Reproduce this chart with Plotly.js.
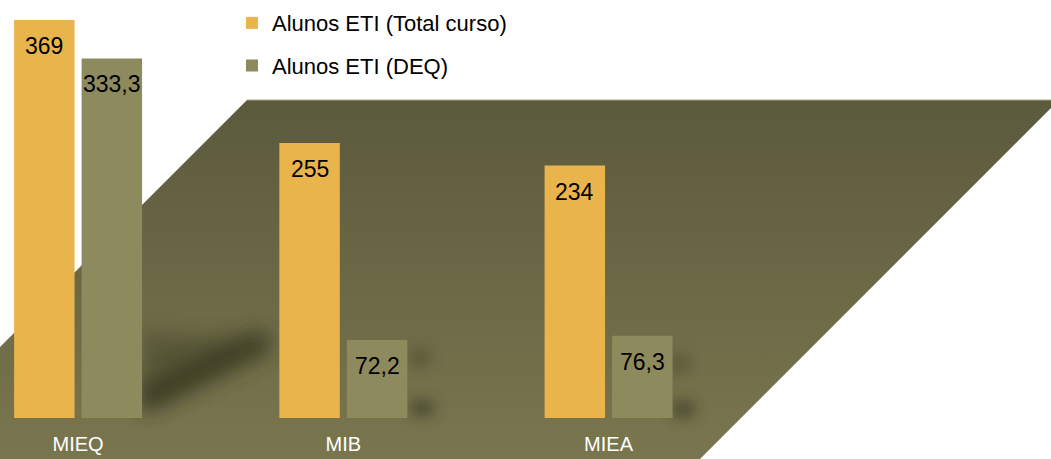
<!DOCTYPE html>
<html>
<head>
<meta charset="utf-8">
<script src="https://cdn.plot.ly/plotly-3.0.1.min.js"></script>
<style>html,body{margin:0;padding:0;background:#fff;}#chart{width:1051px;height:459px;}</style>
</head>
<body>
<div id="chart"></div>
<script>
// ---- data ----
var categories = ["MIEQ", "MIB", "MIEA"];
var seriesNames = ["Alunos ETI (Total curso)", "Alunos ETI (DEQ)"];
var totalCurso = [369, 255, 234];
var deq = [333.3, 72.2, 76.3];

// ---- styles ----
var colors = ["#E8B44B", "#8D8A5E"];
var FONT = "Liberation Sans, Arial, sans-serif";
var W = 1051, H = 459, MB = 41, PH = H - MB;

// decorative floor (background picture, not data)
var svg = '<svg xmlns="http://www.w3.org/2000/svg" width="1051" height="459" viewBox="0 0 1051 459">' +
  '<defs><linearGradient id="g" x1="0" y1="0" x2="0" y2="1">' +
  '<stop offset="0" stop-color="#5C5A3D"/><stop offset="1" stop-color="#79764F"/></linearGradient>' +
  '<filter id="b" filterUnits="userSpaceOnUse" x="0" y="0" width="1051" height="459"><feGaussianBlur stdDeviation="10"/></filter>' +
  '<filter id="s" filterUnits="userSpaceOnUse" x="0" y="0" width="1051" height="459"><feGaussianBlur stdDeviation="7"/></filter></defs>' +
  '<polygon points="247,100 1059,100 700,459 0,459 0,347" fill="url(#g)"/>' +
  '<line x1="247" y1="100" x2="1051" y2="100" stroke="#A9A78C" stroke-width="1"/>' +
  '<polygon points="142,332 262,340 142,414" fill="#3A3A24" opacity="0.45" filter="url(#b)"/>' +
  '<path d="M 150 396 L 258 344" stroke="#33331D" stroke-width="26" stroke-linecap="round" opacity="0.7" filter="url(#b)"/>' +
  '<ellipse cx="420" cy="358" rx="12" ry="10" fill="#3A3A24" opacity="0.4" filter="url(#s)"/>' +
  '<ellipse cx="422" cy="408" rx="13" ry="9" fill="#33331D" opacity="0.6" filter="url(#s)"/>' +
  '<ellipse cx="679" cy="364" rx="12" ry="10" fill="#3A3A24" opacity="0.4" filter="url(#s)"/>' +
  '<ellipse cx="683" cy="409" rx="13" ry="9" fill="#33331D" opacity="0.6" filter="url(#s)"/>' +
  '</svg>';
var bgSrc = "data:image/svg+xml;charset=utf-8," + encodeURIComponent(svg);

var series = [totalCurso, deq];
var traces = series.map(function (vals, i) {
  return {
    type: "bar",
    name: seriesNames[i],
    x: categories,
    y: vals,
    marker: { color: colors[i] },
    legendgroup: "g" + i,
    hoverinfo: "x+y+name"
  };
});

// value labels at the top inside each bar
var annotations = [];
var slotOffset = 33.75;
series.forEach(function (vals, i) {
  vals.forEach(function (v, j) {
    annotations.push({
      x: categories[j], y: v, xref: "x", yref: "y",
      xshift: (i === 0 ? -slotOffset : slotOffset), yshift: -11,
      yanchor: "top", xanchor: "center",
      text: String(v).replace(".", ","),
      showarrow: false,
      font: { family: FONT, size: 23, color: "#000000" }
    });
  });
});

var layout = {
  width: W, height: H,
  margin: { l: 0, r: 0, t: 0, b: MB, pad: 0 },
  paper_bgcolor: "#FFFFFF",
  plot_bgcolor: "rgba(0,0,0,0)",
  font: { family: FONT, size: 20, color: "#000000" },
  barmode: "group",
  bargap: 0.491,
  bargroupgap: 0.104,
  separators: ",.",
  xaxis: {
    type: "category",
    range: [-0.2944, 3.668],
    showgrid: false, zeroline: false, showline: false,
    ticks: "outside", ticklen: 8, tickcolor: "rgba(0,0,0,0)",
    tickfont: { family: FONT, size: 20, color: "#FFFFFF" },
    fixedrange: true
  },
  yaxis: {
    range: [0, 387.5],
    showgrid: false, zeroline: false, showline: false,
    showticklabels: false, ticks: "",
    fixedrange: true
  },
  showlegend: true,
  legend: {
    x: 0.2207, y: 0.995, xanchor: "left", yanchor: "top",
    orientation: "v",
    traceorder: "grouped",
    tracegroupgap: 11,
    bgcolor: "rgba(0,0,0,0)",
    font: { family: FONT, size: 22, color: "#000000" }
  },
  images: [{
    source: bgSrc, xref: "paper", yref: "paper",
    x: 0, y: 1, sizex: 1, sizey: H / PH,
    xanchor: "left", yanchor: "top",
    sizing: "stretch", layer: "below"
  }],
  annotations: annotations
};

Plotly.newPlot("chart", traces, layout, { displayModeBar: false, staticPlot: true });
</script>
</body>
</html>
